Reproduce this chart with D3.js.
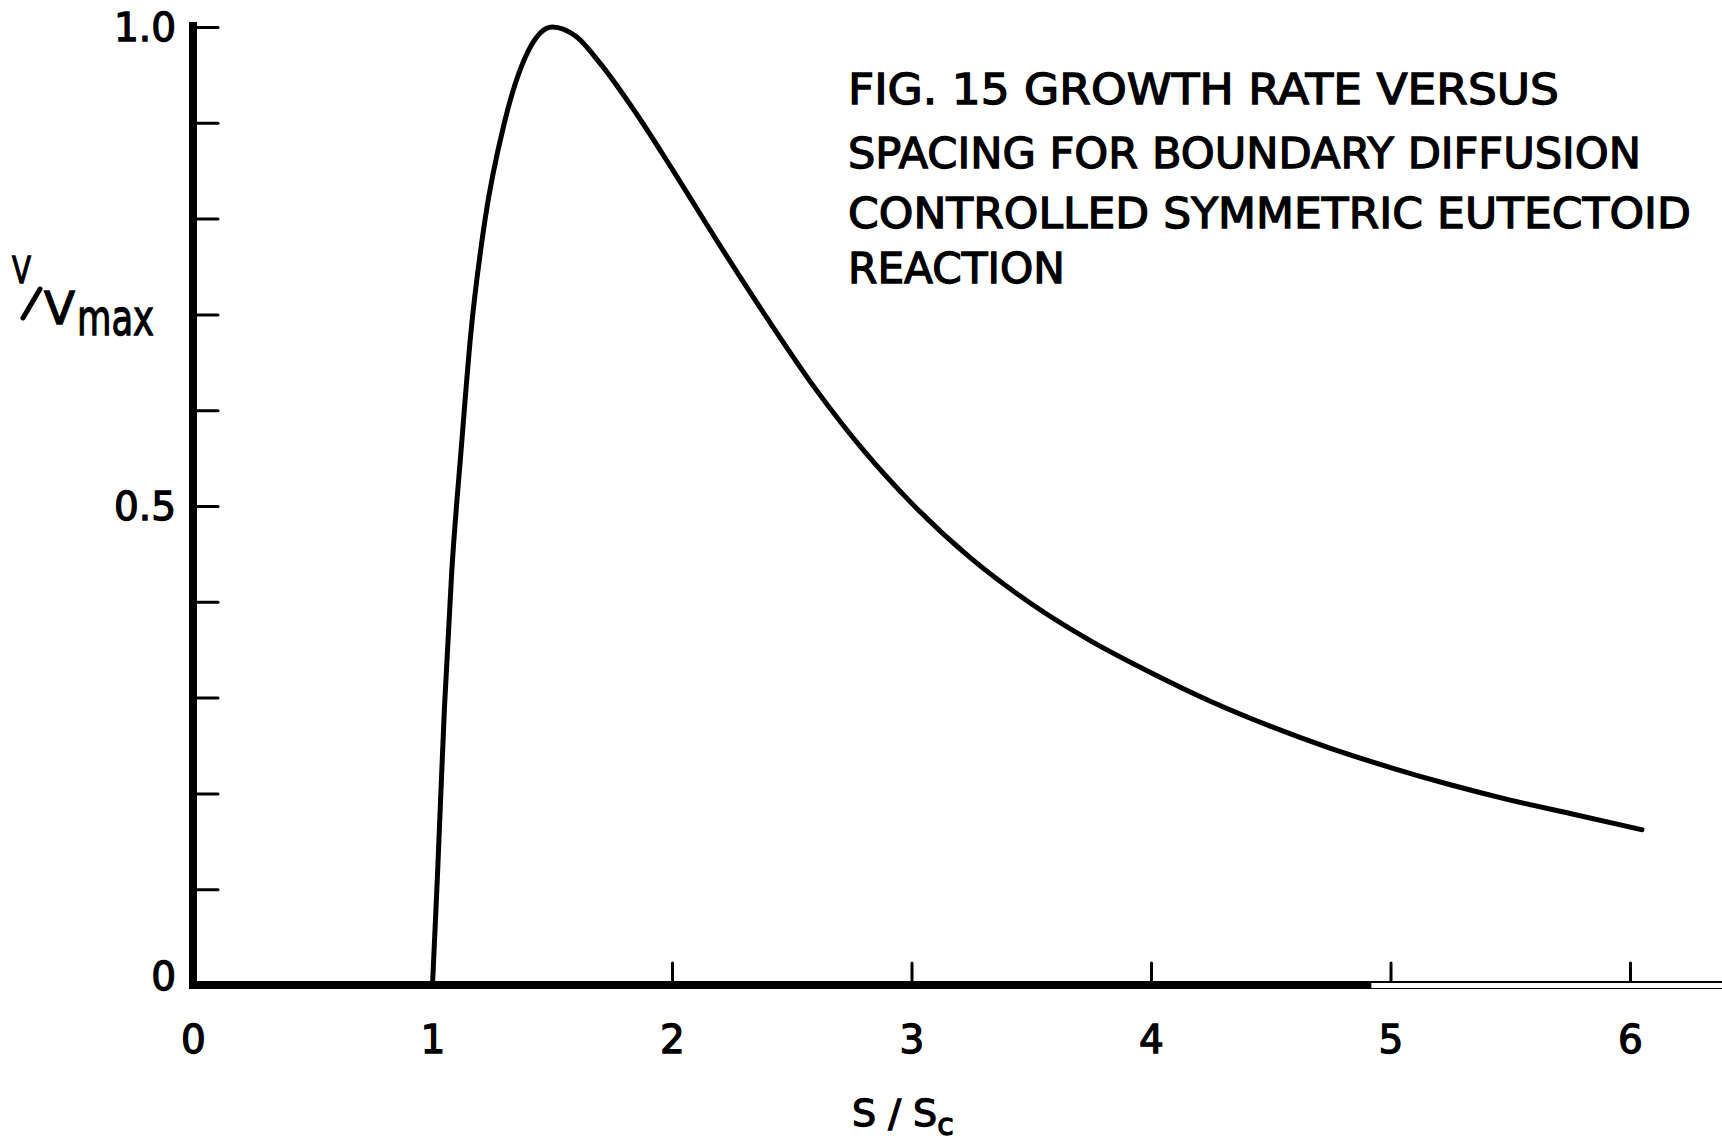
<!DOCTYPE html>
<html>
<head>
<meta charset="utf-8">
<title>Fig. 15 growth rate versus spacing</title>
<script src="https://d3js.org/d3.v7.min.js"></script>
<style>
  body { margin: 0; background: #fff; }
  text { font-family: "DejaVu Sans", sans-serif; fill: #000; stroke: #000; stroke-width: 1.3; }
  .curve { fill: none; stroke: #000; stroke-width: 5; stroke-linecap: round; stroke-linejoin: round; }
  .axis path { display: none; }
  .axis line { stroke: #000; stroke-width: 3; stroke-linecap: round; }
  .labels line { display: none; }
  .axis text { font-size: 39px; }
</style>
</head>
<body>
<svg id="chart"></svg>
<script>
// values: S/Sc against V/Vmax
var spacing = [1.0, 1.02, 1.05, 1.08, 1.12, 1.16, 1.22, 1.3, 1.4, 1.5, 1.6, 1.7, 1.85, 2.0,
               2.2, 2.4, 2.6, 2.8, 3.0, 3.25, 3.5, 3.75, 4.0, 4.25, 4.5, 4.75, 5.0, 5.25, 5.5, 5.75, 6.05];
var rate = [0, 0.11, 0.29, 0.43, 0.56, 0.68, 0.80, 0.90, 0.975, 1.0, 0.99, 0.962, 0.91, 0.852,
            0.772, 0.695, 0.622, 0.558, 0.503, 0.445, 0.398, 0.359, 0.326, 0.296, 0.27, 0.247, 0.227, 0.209, 0.193, 0.179, 0.162];
var xTicks = [0, 1, 2, 3, 4, 5, 6];
var xUpTicks = [2, 3, 4, 5, 6];
var yLabels = [0, 0.5, 1.0];
var yMinor = [0.1, 0.2, 0.3, 0.4, 0.5, 0.6, 0.7, 0.8, 0.9, 1.0];
var titleLines = ["FIG. 15 GROWTH RATE  VERSUS", "SPACING FOR BOUNDARY DIFFUSION",
                  "CONTROLLED SYMMETRIC EUTECTOID", "REACTION"];

var W = 1722, H = 1146;
var svg = d3.select('#chart').attr('width', W).attr('height', H);
svg.append('rect').attr('width', W).attr('height', H).attr('fill', '#fff');

var x = d3.scaleLinear().domain([0, 6.4]).range([193, 193 + 6.4 * 239.5]);
var y = d3.scaleLinear().domain([0, 1]).range([985, 27]);

var data = spacing.map(function (s, i) { return { s: s, v: rate[i] }; });

// inward ticks on the y axis
svg.append('g').attr('class', 'axis')
  .attr('transform', 'translate(' + x(0) + ',0)')
  .call(d3.axisRight(y).tickValues(yMinor).tickSize(25).tickFormat(''));

// y labels
svg.append('g').attr('class', 'axis labels')
  .attr('transform', 'translate(' + (x(0) - 17) + ',0)')
  .call(d3.axisLeft(y).tickValues(yLabels).tickSize(0).tickPadding(0)
    .tickFormat(function (d) { return d === 0 ? '0' : d3.format('.1f')(d); }))
  .selectAll('text').attr('dy', function (d) { return d === 0 ? '0.12em' : '0.35em'; });

// upward ticks on the x axis
svg.append('g').attr('class', 'axis')
  .attr('transform', 'translate(0,' + y(0) + ')')
  .call(d3.axisTop(x).tickValues(xUpTicks).tickSize(22).tickFormat(''));

// x labels
svg.append('g').attr('class', 'axis labels')
  .attr('transform', 'translate(0,' + y(0) + ')')
  .call(d3.axisBottom(x).tickValues(xTicks).tickSize(0).tickPadding(40).tickFormat(d3.format('d')));

// heavy axis lines
svg.append('line').attr('x1', x(0)).attr('x2', x(0)).attr('y1', 22).attr('y2', y(0) + 4)
  .attr('stroke', '#000').attr('stroke-width', 8);
svg.append('line').attr('x1', x(0) - 4).attr('x2', W).attr('y1', y(0)).attr('y2', y(0))
  .attr('stroke', '#000').attr('stroke-width', 8);
// faded right end of the x axis
svg.append('line').attr('x1', x(4.92)).attr('x2', W).attr('y1', y(0) + 0.5).attr('y2', y(0) + 0.5)
  .attr('stroke', '#fff').attr('stroke-width', 5);

var line = d3.line()
  .x(function (d) { return x(d.s); })
  .y(function (d) { return y(d.v); })
  .curve(d3.curveMonotoneX);

svg.append('path').datum(data).attr('class', 'curve').attr('d', line);

// title block
var title = svg.append('g');
var widths = [711, 793, 843, 217];
var baselines = [104, 168, 228, 283];
titleLines.forEach(function (t, i) {
  title.append('text')
    .attr('x', 848).attr('y', baselines[i])
    .attr('font-size', 43)
    .attr('textLength', widths[i]).attr('lengthAdjust', 'spacingAndGlyphs')
    .text(t);
});

// y axis label V/Vmax
var yl = svg.append('g');
yl.append('text').attr('x', 12).attr('y', 283).attr('font-size', 38)
  .attr('textLength', 19).attr('lengthAdjust', 'spacingAndGlyphs').text('V');
yl.append('line').attr('x1', 23).attr('y1', 318).attr('x2', 40).attr('y2', 289)
  .attr('stroke', '#000').attr('stroke-width', 5).attr('stroke-linecap', 'round');
yl.append('text').attr('x', 44).attr('y', 324).attr('font-size', 45)
  .attr('textLength', 31).attr('lengthAdjust', 'spacingAndGlyphs').text('V');
yl.append('text').attr('x', 77).attr('y', 335).attr('font-size', 50)
  .attr('textLength', 77).attr('lengthAdjust', 'spacingAndGlyphs').text('max');

// x axis label S / Sc
var xl = svg.append('text').attr('x', 852).attr('y', 1126).attr('font-size', 38);
xl.append('tspan').text('S / S');
xl.append('tspan').attr('font-size', 30).attr('dy', 9).text('c');
</script>
</body>
</html>
